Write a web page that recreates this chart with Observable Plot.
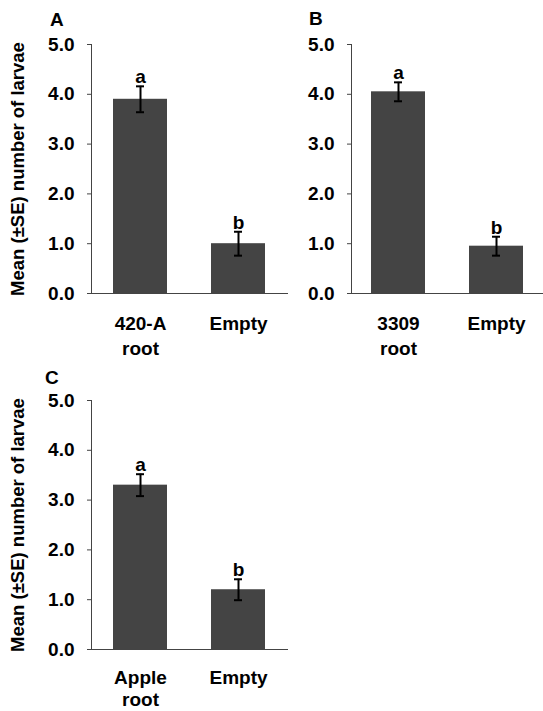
<!DOCTYPE html>
<html><head><meta charset="utf-8">
<script src="https://cdn.jsdelivr.net/npm/d3@7"></script>
<script src="https://cdn.jsdelivr.net/npm/@observablehq/plot@0.6"></script>
<style>
body{margin:0;background:#fff;}
#root{position:relative;width:543px;height:711px;overflow:hidden;font-family:"Liberation Sans",Arial,sans-serif;}
.panel{position:absolute;}
.letter{position:absolute;font-weight:bold;font-size:19px;line-height:19px;color:#000;}
</style></head><body><div id="root"></div>
<script>
const panelLetters = ["A", "B", "C"];
const categoriesA = ["420-A\nroot", "Empty"];
const categoriesB = ["3309\nroot", "Empty"];
const categoriesC = ["Apple\nroot", "Empty"];
const meansA = [3.9, 1.0];
const seA = [0.26, 0.24];
const meansB = [4.05, 0.95];
const seB = [0.19, 0.19];
const meansC = [3.3, 1.2];
const seC = [0.22, 0.21];
const sigA = ["a", "b"];
const sigB = ["a", "b"];
const sigC = ["a", "b"];
const yTicks = [0, 1, 2, 3, 4, 5];
const yLabel = "Mean (\u00b1SE) number of larvae";

function panel(cats, means, se, sig, o) {
  const data = cats.map((c, i) => ({cat: c, mean: means[i], lo: means[i] - se[i], hi: means[i] + se[i], sig: sig[i]}));
  const marks = [
    Plot.barY(data, {x: "cat", y: "mean", fill: "#444444"}),
    Plot.ruleX(data, {x: "cat", y1: "lo", y2: "hi", stroke: "#000", strokeWidth: 2}),
    Plot.tickY(data, {x: "cat", y: "lo", insetLeft: 23, insetRight: 23, stroke: "#000", strokeWidth: 2}),
    Plot.tickY(data, {x: "cat", y: "hi", insetLeft: 23, insetRight: 23, stroke: "#000", strokeWidth: 2}),
    Plot.text(data, {x: "cat", y: "hi", text: "sig", lineAnchor: "bottom", dy: -3, fontSize: 19, fontWeight: "bold", fill: "#000"}),
    Plot.frame({anchor: "left", stroke: "#444"}),
    Plot.ruleY([0], {stroke: "#444"}),
    Plot.axisY(yTicks, {tickFormat: d => d.toFixed(1), tickSize: 4, tickPadding: 13, stroke: "#444", fill: "#000", label: null, fontSize: 19, fontWeight: "bold"}),
    Plot.axisX({tickSize: 0, tickPadding: 19, lineHeight: o.lh, label: null, fill: "#000", fontSize: 19, fontWeight: "bold"})
  ];
  if (o.showLabel) {
    marks.push(Plot.text([yLabel], {frameAnchor: "left", rotate: -90, dx: -73, textAnchor: "middle", lineAnchor: "middle", fontSize: 18.5, fontWeight: "bold", fill: "#000"}));
  }
  const svg = Plot.plot({
    width: o.width, height: o.height,
    marginLeft: o.ml, marginTop: o.mt, marginBottom: o.mb, marginRight: o.mr,
    style: {fontFamily: "'Liberation Sans', Arial, sans-serif", fontSize: "19px", fontWeight: "bold", color: "#000", background: "transparent", overflow: "visible"},
    x: {domain: cats, paddingInner: 0.444, paddingOuter: o.po, label: null},
    y: {domain: [0, 5], label: null},
    marks
  });
  const div = document.createElement("div");
  div.className = "panel";
  div.style.left = o.left + "px";
  div.style.top = o.top + "px";
  div.appendChild(svg);
  return div;
}

const root = document.getElementById("root");
root.appendChild(panel(categoriesA, meansA, seA, sigA, {left: 0, top: 0, width: 290, height: 360, ml: 91, mt: 44, mb: 67, mr: 2, po: 0.217, lh: 1.3, showLabel: true}));
root.appendChild(panel(categoriesB, meansB, seB, sigB, {left: 270, top: 0, width: 273, height: 360, ml: 81, mt: 44, mb: 67, mr: 0, po: 0.2, lh: 1.3, showLabel: false}));
root.appendChild(panel(categoriesC, meansC, seC, sigC, {left: 0, top: 340, width: 290, height: 371, ml: 91, mt: 60, mb: 62, mr: 2, po: 0.217, lh: 1.15, showLabel: true}));

const letterPos = [[50, 10], [309, 9], [45, 368]];
panelLetters.forEach((t, i) => {
  const d = document.createElement("div");
  d.className = "letter";
  d.textContent = t;
  d.style.left = letterPos[i][0] + "px";
  d.style.top = letterPos[i][1] + "px";
  root.appendChild(d);
});
</script></body></html>
